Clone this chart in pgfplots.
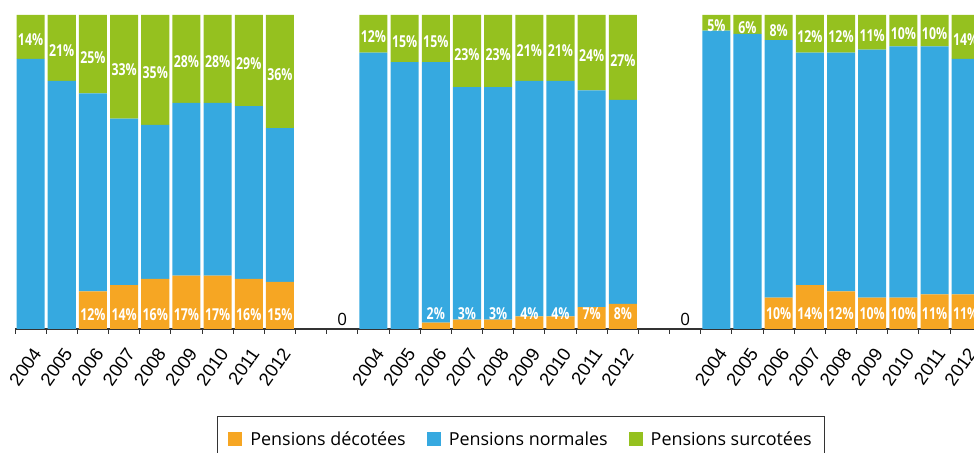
\documentclass[border=0pt]{standalone}
\usepackage{fontspec}
\usepackage{pgfplots}
\usepackage{pgfplotstable}
\pgfplotsset{compat=1.18}
\setmainfont{Open Sans}
\newfontfamily\tickfont{Liberation Sans}
\newfontfamily\lblfont[FakeStretch=0.75]{Open Sans}
\definecolor{cdec}{HTML}{F6A623}
\definecolor{cnor}{HTML}{36A9E0}
\definecolor{csur}{HTML}{95C11F}

\pgfplotstableread{
x dec norm sur
0 0 86 14
1 0 79 21
2 12 63 25
3 14 53 33
4 16 49 35
5 17 55 28
6 17 55 28
7 16 55 29
8 15 49 36
11 0 88 12
12 0 85 15
13 2 83 15
14 3 74 23
15 3 74 23
16 4 75 21
17 4 75 21
18 7 69 24
19 8 65 27
22 0 95 5
23 0 94 6
24 10 82 8
25 14 74 12
26 12 76 12
27 10 79 11
28 10 80 10
29 11 79 10
30 11 75 14
}\bars

\pgfplotstableread{
x y v
0 92 14
1 88.5 21
2 86.5 25
3 82.5 33
4 81.5 35
5 85 28
6 85 28
7 84.5 29
8 81 36
11 93 12
12 91.5 15
13 91.5 15
14 87.5 23
15 87.5 23
16 88.5 21
17 88.5 21
18 87 24
19 85.5 27
22 96.5 5
23 96 6
24 95 8
25 93 12
26 93 12
27 93.5 11
28 94 10
29 94 10
30 92 14
}\glab

\pgfplotstableread{
x y v
2 4.5 12
3 4.5 14
4 4.5 16
5 4.5 17
6 4.5 17
7 4.5 16
8 4.5 15
13 4.8 2
14 4.8 3
15 4.8 3
16 4.8 4
17 4.8 4
18 4.8 7
19 4.8 8
24 4.8 10
25 4.8 14
26 4.8 12
27 4.8 10
28 4.8 10
29 4.8 11
30 4.8 11
}\olab

\pgfplotstableread{
x y v
10 3 0
21 3 0
}\zlab

\begin{document}
\begin{tikzpicture}
\pgfplotsset{
  base/.style={
    at={(15bp,124bp)}, anchor=south west,
    scale only axis, width=966.3bp, height=314bp,
    xmin=-0.5, xmax=30.5, ymin=0, ymax=100,
  }
}
\begin{axis}[base,
  ybar stacked, bar width=0.9,
  axis x line*=bottom, axis y line=none,
  axis line style={black!80, line width=1.1bp, -},
  xtick={0,1,2,3,4,5,6,7,8,11,12,13,14,15,16,17,18,19,22,23,24,25,26,27,28,29,30},
  xticklabels={2004,2005,2006,2007,2008,2009,2010,2011,2012,2004,2005,2006,2007,2008,2009,2010,2011,2012,2004,2005,2006,2007,2008,2009,2010,2011,2012},
  minor xtick={-0.5,0.5,1.5,2.5,3.5,4.5,5.5,6.5,7.5,8.5,9.5,10.5,11.5,12.5,13.5,14.5,15.5,16.5,17.5,18.5,19.5,20.5,21.5,22.5,23.5,24.5,25.5,26.5,27.5,28.5,29.5,30.5},
  major tick length=0pt, minor tick length=5bp, tick align=outside,
  minor tick style={black!80, line width=1bp},
  xticklabel style={inner sep=0pt, xshift=6.5bp, yshift=-21bp, rotate=55, anchor=east, font=\tickfont\fontsize{18.5}{20}\selectfont},
  legend columns=3,
  legend style={at={(axis description cs:0.209,-0.277)}, anchor=north west,
    draw=black!80, line width=0.8bp, font=\fontsize{18}{21}\selectfont,
    inner xsep=11bp, inner ysep=13bp,
    /tikz/every odd column/.append style={column sep=6bp},
    /tikz/every even column/.append style={column sep=19bp}},
  legend image code/.code={\fill[#1] (0bp,-7bp) rectangle (14bp,7bp);},
]
\addplot[fill=cdec, draw=none] table[x=x, y=dec]{\bars};
\addplot[fill=cnor, draw=none] table[x=x, y=norm]{\bars};
\addplot[fill=csur, draw=none] table[x=x, y=sur]{\bars};
\legend{Pensions décotées, Pensions normales, Pensions surcotées}
\end{axis}
\begin{axis}[base, hide axis, clip=false]
\addplot[draw=none, mark=none, point meta=explicit symbolic,
  nodes near coords={\pgfplotspointmeta\%},
  nodes near coords style={anchor=center, white, font=\lblfont\bfseries\fontsize{16.5}{18}\selectfont, inner sep=0pt}]
  table[x=x, y=y, meta=v]{\glab};
\addplot[draw=none, mark=none, point meta=explicit symbolic,
  nodes near coords={\pgfplotspointmeta\%},
  nodes near coords style={anchor=center, white, font=\lblfont\bfseries\fontsize{16.5}{18}\selectfont, inner sep=0pt}]
  table[x=x, y=y, meta=v]{\olab};
\addplot[draw=none, mark=none, point meta=explicit symbolic,
  nodes near coords={\pgfplotspointmeta},
  nodes near coords style={anchor=center, black, font=\fontsize{17}{19}\selectfont, inner sep=0pt}]
  table[x=x, y=y, meta=v]{\zlab};
\end{axis}
\pgfresetboundingbox
\path[use as bounding box] (0,0) rectangle (974bp,453bp);
\end{tikzpicture}
\end{document}
